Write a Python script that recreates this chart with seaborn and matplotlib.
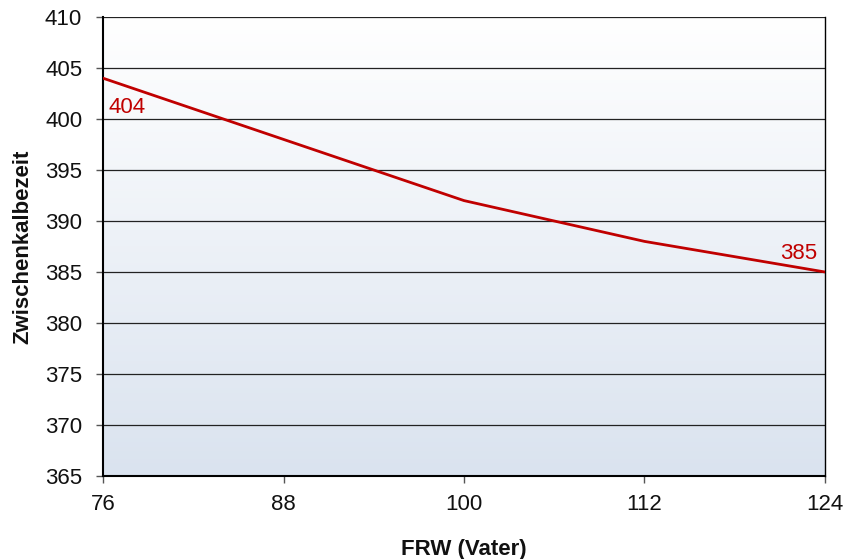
import numpy as np
import pandas as pd
import matplotlib
matplotlib.use("Agg")
import matplotlib.pyplot as plt
import seaborn as sns

frw = [76, 88, 100, 112, 124]
zkz = [404, 398, 392, 388, 385]
y_ticks = [365, 370, 375, 380, 385, 390, 395, 400, 405, 410]
x_ticks = [76, 88, 100, 112, 124]

df = pd.DataFrame({"FRW (Vater)": frw, "Zwischenkalbezeit": zkz})

sns.set_style("white")
plt.rcParams["font.family"] = ["Liberation Sans", "DejaVu Sans"]

fig = plt.figure(figsize=(8.43, 5.59), dpi=100)
ax = fig.add_axes([0.1222, 0.1485, 0.8564, 0.8211])

# gradient background, white at top, light blue at bottom
grad = np.linspace(0, 1, 256).reshape(-1, 1)
cmap = matplotlib.colors.LinearSegmentedColormap.from_list("bg", ["#ffffff", "#dae3ef"])
ax.imshow(grad, aspect="auto", cmap=cmap, origin="upper",
          extent=[76, 124, 365, 410], zorder=0)

for yt in y_ticks[1:]:
    ax.axhline(yt, color="#222222", lw=0.9, zorder=1)

red = "#c00000"
sns.lineplot(data=df, x="FRW (Vater)", y="Zwischenkalbezeit", color=red, lw=2, ax=ax, zorder=3)

ax.text(frw[0] + 0.35, zkz[0] - 2.9, str(zkz[0]), color=red, fontsize=16, ha="left", va="center")
ax.text(frw[-1] - 0.5, zkz[-1] + 1.8, str(zkz[-1]), color=red, fontsize=16, ha="right", va="center")

ax.set_xlim(76, 124)
ax.set_ylim(365, 410)
ax.set_xticks(x_ticks)
ax.set_yticks(y_ticks)
ax.tick_params(axis="both", bottom=True, left=True, direction="out", length=5, width=1,
               color="#555555", labelsize=16, labelcolor="#111111", pad=10)
ax.tick_params(axis="x", pad=8)

for side in ["left", "bottom"]:
    ax.spines[side].set_color("black")
    ax.spines[side].set_linewidth(1.5)
ax.spines["right"].set_color("black")
ax.spines["right"].set_linewidth(1.0)
ax.spines["top"].set_visible(False)

ax.set_xlabel("FRW (Vater)", fontsize=16, fontweight="bold", labelpad=17, color="#111111")
ax.set_ylabel("Zwischenkalbezeit", fontsize=16, fontweight="bold", labelpad=8, color="#111111")

fig.savefig("out.png", dpi=100)
